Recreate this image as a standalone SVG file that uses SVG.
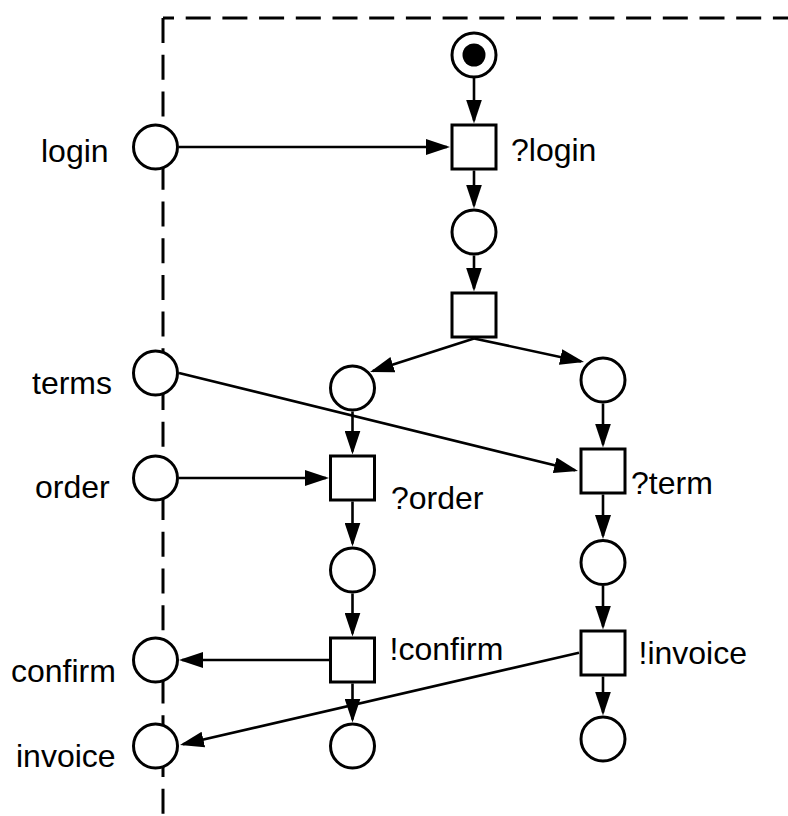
<svg xmlns="http://www.w3.org/2000/svg" width="788" height="816" viewBox="0 0 788 816">
<defs>
<style>
.pl{fill:#fff;stroke:#000;stroke-width:3}
.tr{fill:#fff;stroke:#000;stroke-width:3}
.arc{fill:none;stroke:#000;stroke-width:2.6;marker-end:url(#ah)}
.bd{fill:none;stroke:#000;stroke-width:3;stroke-dasharray:25 11.7}
.lb{font-family:"Liberation Sans",Arial,sans-serif;font-size:32px;fill:#000}
</style>
<marker id="ah" viewBox="0 0 24 16" refX="21" refY="8" markerWidth="24" markerHeight="16" markerUnits="userSpaceOnUse" orient="auto">
<path d="M0,0 L24,8 L0,16 z" fill="#000"/>
</marker>
</defs>
<g id="boundary">
<path class="bd" d="M163,18 L163,816"/>
<path class="bd" d="M163,18 L788,18" stroke-dashoffset="14"/>
</g>
<g id="connectors">
<path class="arc" d="M474,77 L474,120.5"/>
<path class="arc" d="M474,170.5 L474,205.5"/>
<path class="arc" d="M474,255.5 L474,288.5"/>
<path class="arc" d="M474,338.5 L372.9,371.1"/>
<path class="arc" d="M474,338.5 L581.1,361.4"/>
<path class="arc" d="M179,147 L447,147"/>
<path class="arc" d="M352.5,411.5 L352.5,451.5"/>
<path class="arc" d="M179,478 L326,478"/>
<path class="arc" d="M603,403.5 L603,444.5"/>
<path class="arc" d="M179,373 L575.1,470.3"/>
<path class="arc" d="M352.5,501.5 L352.5,543.5"/>
<path class="arc" d="M603,494.5 L603,536"/>
<path class="arc" d="M352.5,593.5 L352.5,633.5"/>
<path class="arc" d="M603,586 L603,626.5"/>
<path class="arc" d="M329,660 L182,660"/>
<path class="arc" d="M352.5,683.5 L352.5,719.5"/>
<path class="arc" d="M579,652.7 L182.9,744.3"/>
<path class="arc" d="M603,676.5 L603,712.5"/>
</g>
<g id="p_start"><circle class="pl" cx="474" cy="55" r="22"/><circle cx="474" cy="55" r="11.5" fill="#000"/></g>
<g id="t_login"><rect class="tr" x="452" y="125" width="44" height="44"/><text class="lb" x="511" y="161">?login</text></g>
<g id="p1"><circle class="pl" cx="474" cy="232" r="22"/></g>
<g id="t_split"><rect class="tr" x="452" y="293" width="44" height="44"/></g>
<g id="p_left"><circle class="pl" cx="352.5" cy="388" r="22"/></g>
<g id="p_right"><circle class="pl" cx="603" cy="380" r="22"/></g>
<g id="login"><circle class="pl" cx="155.5" cy="147" r="22"/><text class="lb" x="41" y="162">login</text></g>
<g id="terms"><circle class="pl" cx="155.5" cy="373" r="22"/><text class="lb" x="32" y="394">terms</text></g>
<g id="order"><circle class="pl" cx="155.5" cy="478" r="22"/><text class="lb" x="35" y="498">order</text></g>
<g id="confirm"><circle class="pl" cx="155.5" cy="660" r="22"/><text class="lb" x="11" y="682">confirm</text></g>
<g id="invoice"><circle class="pl" cx="155.5" cy="746" r="22"/><text class="lb" x="16" y="767">invoice</text></g>
<g id="t_order"><rect class="tr" x="330.5" y="456" width="44" height="44"/><text class="lb" x="391" y="509">?order</text></g>
<g id="t_term"><rect class="tr" x="581" y="449" width="44" height="44"/><text class="lb" x="631" y="494">?term</text></g>
<g id="p_left2"><circle class="pl" cx="352.5" cy="570" r="22"/></g>
<g id="p_right2"><circle class="pl" cx="603" cy="562.5" r="22"/></g>
<g id="t_confirm"><rect class="tr" x="330.5" y="638" width="44" height="44"/><text class="lb" x="389.5" y="660">!confirm</text></g>
<g id="t_invoice"><rect class="tr" x="581" y="631" width="44" height="44"/><text class="lb" x="638.5" y="664">!invoice</text></g>
<g id="p_left3"><circle class="pl" cx="352.5" cy="746" r="22"/></g>
<g id="p_right3"><circle class="pl" cx="603" cy="739" r="22"/></g>
</svg>
